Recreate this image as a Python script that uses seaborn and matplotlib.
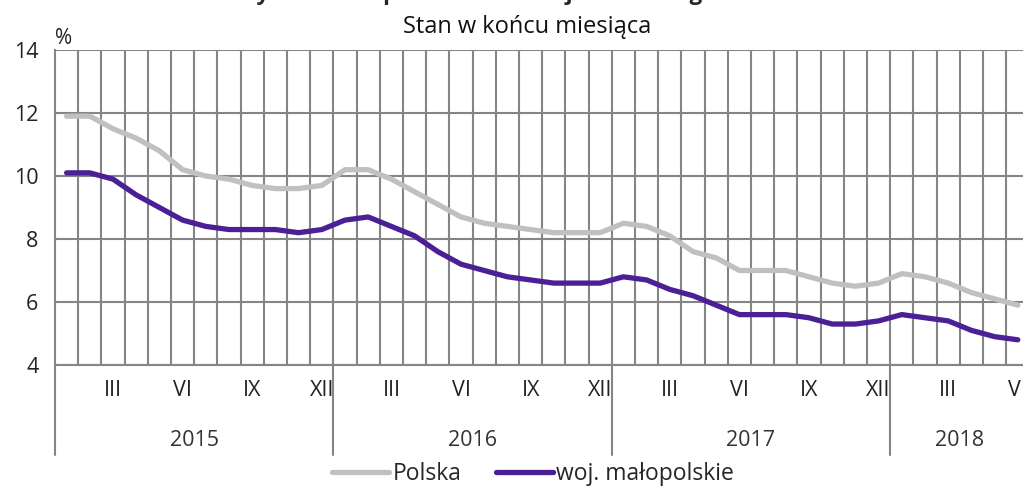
import pandas as pd
import matplotlib
matplotlib.use("Agg")
import matplotlib.pyplot as plt
import matplotlib.transforms as mtransforms
import seaborn as sns

# data: stopa bezrobocia, stan w koncu miesiaca (I 2015 - VI 2018)
years = [2015, 2016, 2017, 2018]
months_per_year = [12, 12, 12, 6]
roman = ["I", "II", "III", "IV", "V", "VI", "VII", "VIII", "IX", "X", "XI", "XII"]

polska = [11.9, 11.9, 11.5, 11.2, 10.8, 10.2, 10.0, 9.9, 9.7, 9.6, 9.6, 9.7,
          10.2, 10.2, 9.9, 9.5, 9.1, 8.7, 8.5, 8.4, 8.3, 8.2, 8.2, 8.2,
          8.5, 8.4, 8.1, 7.6, 7.4, 7.0, 7.0, 7.0, 6.8, 6.6, 6.5, 6.6,
          6.9, 6.8, 6.6, 6.3, 6.1, 5.9]
malopolskie = [10.1, 10.1, 9.9, 9.4, 9.0, 8.6, 8.4, 8.3, 8.3, 8.3, 8.2, 8.3,
               8.6, 8.7, 8.4, 8.1, 7.6, 7.2, 7.0, 6.8, 6.7, 6.6, 6.6, 6.6,
               6.8, 6.7, 6.4, 6.2, 5.9, 5.6, 5.6, 5.6, 5.5, 5.3, 5.3, 5.4,
               5.6, 5.5, 5.4, 5.1, 4.9, 4.8]
series_names = ["Polska", "woj. małopolskie"]
colors = {"Polska": "#C0C0C0", "woj. małopolskie": "#4B2096"}


def main():
    n = len(polska)
    month_labels = [roman[m] for y, k in zip(years, months_per_year) for m in range(k)]
    df = pd.DataFrame({
        "idx": list(range(n)) * 2,
        "value": polska + malopolskie,
        "series": [series_names[0]] * n + [series_names[1]] * n,
    })

    sns.set_style("white")
    plt.rcParams["font.family"] = ["Open Sans", "DejaVu Sans"]
    fig = plt.figure(figsize=(10.23, 4.88), dpi=100)
    band = 23.2
    ax = fig.add_axes([55 / 1023, 123 / 488, n * band / 1023, 315 / 488])

    sns.lineplot(data=df, x="idx", y="value", hue="series", hue_order=series_names,
                 palette=colors, linewidth=3.8, ax=ax, zorder=3,
                 solid_joinstyle="round", solid_capstyle="round")

    ax.set_xlim(-0.5, n - 0.5)
    ax.set_ylim(4, 14)
    ax.set_yticks([4, 6, 8, 10, 12, 14])
    ax.set_yticklabels(["4", "6", "8", "10", "12", "14"], fontsize=15.5, color="#222222")
    ax.tick_params(axis="y", length=0, pad=12)

    # vertical gridlines between months
    ax.set_xticks([i - 0.5 for i in range(1, n)], minor=True)
    ax.grid(True, which="minor", axis="x", color="#858585", linewidth=1.5)
    ax.grid(True, which="major", axis="y", color="#858585", linewidth=1.5)
    shown = [i for i, lab in enumerate(month_labels) if roman.index(lab) % 3 == 2]
    ax.set_xticks(shown)
    ax.set_xticklabels([month_labels[i] for i in shown], fontsize=15.5, color="#222222")
    ax.tick_params(axis="x", which="both", length=0, pad=11)
    ax.set_xlabel("")
    ax.set_ylabel("")
    for s in ["top", "right"]:
        ax.spines[s].set_visible(False)
    ax.spines["left"].set_color("#858585")
    ax.spines["left"].set_linewidth(1.5)
    ax.spines["bottom"].set_color("#858585")
    ax.spines["bottom"].set_linewidth(1.5)

    # year groups under the axis
    trans = mtransforms.blended_transform_factory(ax.transData, ax.transAxes)
    start = 0
    for y, k in zip(years, months_per_year):
        ax.plot([start - 0.5, start - 0.5], [0, -0.286], transform=trans,
                color="#858585", linewidth=1.5, clip_on=False)
        ax.text(start + k / 2 - 0.5, -0.24, str(y), transform=trans, ha="center",
                va="center", fontsize=15.5, color="#333333")
        start += k

    ax.text(0.0, 1.035, "%", transform=ax.transAxes, fontsize=15, va="center",
            color="#222222")

    fig.text(475 / 1023, 1.0, "Wykres 1. Stopa bezrobocia rejestrowanego",
             ha="center", va="baseline", fontsize=16, fontweight="bold")
    fig.text(527 / 1023, 1 - 27 / 488, "Stan w końcu miesiąca", ha="center",
             va="center", fontsize=17, color="#111111")

    sns.move_legend(ax, "center", bbox_to_anchor=(533 / 1023, 14 / 488),
                    bbox_transform=fig.transFigure, ncol=2, frameon=False, title=None,
                    fontsize=16.5, handlelength=2.5, handletextpad=0.15,
                    columnspacing=1.5)

    fig.savefig("out.png", dpi=100)
    plt.close(fig)


if __name__ == "__main__":
    main()
